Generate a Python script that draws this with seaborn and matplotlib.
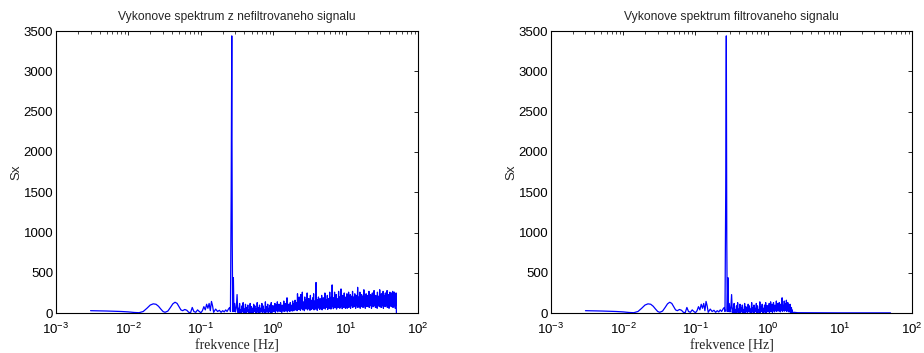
import numpy as np
import matplotlib
matplotlib.use("Agg")
import matplotlib.pyplot as plt
import seaborn as sns
from matplotlib.ticker import LogLocator, NullFormatter

# ---------------- data ----------------
titles = ["Vykonove spektrum z nefiltrovaneho signalu",
          "Vykonove spektrum filtrovaneho signalu"]
xlabel = "frekvence [Hz]"
ylabel = "Sx"
yticks = [0, 500, 1000, 1500, 2000, 2500, 3000, 3500]

# low-frequency part (common to both spectra), incl. the main peak
low_freq = [0.003, 0.005, 0.008, 0.010, 0.012, 0.014, 0.016, 0.018, 0.020, 0.022,
            0.024, 0.026, 0.028, 0.030, 0.032, 0.035, 0.038, 0.041, 0.044, 0.047,
            0.050, 0.053, 0.056, 0.060, 0.064, 0.068, 0.072, 0.076, 0.080, 0.085,
            0.090, 0.095, 0.100, 0.105, 0.110, 0.115, 0.120, 0.125, 0.130, 0.135,
            0.140, 0.145, 0.150, 0.160, 0.170, 0.180, 0.190, 0.200, 0.210, 0.220,
            0.230, 0.240, 0.250, 0.256, 0.262, 0.267, 0.271, 0.275, 0.281, 0.286,
            0.293, 0.300, 0.308, 0.316, 0.323]
low_vals = [30, 26, 20, 15, 8, 5, 20, 60, 100, 115,
            110, 85, 50, 20, 10, 25, 70, 115, 135, 120,
            80, 40, 30, 45, 35, 10, 5, 70, 20, 10,
            40, 20, 5, 30, 80, 40, 110, 60, 120, 30,
            145, 90, 10, 50, 20, 35, 10, 30, 15, 40,
            20, 50, 70, 20, 1500, 3440, 900, 20, 440, 20,
            120, 15, 60, 230, 10]

# noisy band 0.33-1 Hz (both spectra)
peaks_a = [60, 120, 40, 90, 130, 50, 110, 70, 100, 40, 120, 80, 60, 110, 90,
           50, 130, 70, 100, 60, 120, 90, 40, 140, 80, 110, 60, 100, 130, 90]
troughs_a = [5, 10, 0, 15, 5, 10, 0, 20, 5, 10, 0, 15, 5, 20, 10,
             0, 15, 5, 10, 20, 0, 15, 5, 10, 20, 0, 15, 10, 5, 20]

# unfiltered: noisy band 1-10 Hz
peaks_b = [90, 60, 120, 70, 100, 140, 80, 110, 60, 130, 90, 100, 70, 150, 80,
           120, 100, 190, 90, 110, 70, 130, 100, 80, 150, 120, 90,
           160, 100, 130, 240, 110, 200, 150, 230, 120, 260, 140, 110, 200, 130,
           170, 250, 120, 180, 140, 220, 160, 130, 190, 240, 150, 120, 380, 170,
           140, 200, 160, 180, 130, 220, 150,
           190, 150, 250, 170, 140, 220, 180, 160, 260, 150, 200, 350, 170, 190,
           260, 150, 230, 180, 160, 270, 200, 170, 300, 180, 220, 160, 250, 190]
troughs_b = [20, 35, 10, 40, 25, 15, 45, 30, 20, 35, 10, 40, 30, 20, 45,
             25, 35, 15, 40, 30, 20, 45, 35, 25, 40, 30, 45,
             40, 60, 30, 70, 45, 55, 35, 65, 50, 40, 70, 30, 60, 50,
             75, 40, 65, 55, 35, 70, 45, 60, 80, 40, 65, 50, 70, 35,
             60, 75, 45, 55, 80, 40, 70,
             60, 90, 50, 80, 70, 45, 95, 60, 85, 50, 75, 90, 55, 80,
             65, 100, 50, 85, 70, 95, 60, 80, 100, 55, 90, 70, 85, 60]

# unfiltered: noisy band 10-50 Hz
peaks_c = [200, 160, 240, 180, 150, 260, 190, 170, 230, 160,
           210, 180, 270, 160, 200, 150, 240, 190, 170, 220,
           160, 320, 180, 200, 150, 260, 190, 170, 230, 180,
           210, 160, 290, 180, 200, 170, 240, 160, 190, 220,
           170, 270, 180, 160, 230, 200, 170, 250, 180, 160,
           280, 190, 170, 220, 200, 160, 260, 180, 210, 170,
           290, 190, 160, 240, 200, 170, 270, 180, 220, 160,
           250, 190, 170, 280, 200, 160, 230, 180, 260, 170,
           200, 250, 180, 270, 190, 160, 260, 220, 180, 250]
troughs_c = [80, 110, 60, 120, 90, 70, 130, 100, 60, 110,
             90, 120, 70, 100, 130, 80, 110, 60, 120, 90,
             100, 70, 130, 90, 110, 60, 120, 80, 100, 130,
             70, 110, 90, 120, 60, 100, 130, 80, 110, 90,
             120, 70, 100, 130, 90, 60, 110, 120, 80, 100,
             130, 90, 70, 120, 100, 60, 110, 130, 90, 80,
             120, 100, 70, 130, 90, 110, 60, 120, 100, 80,
             130, 90, 110, 70, 120, 100, 60, 130, 90, 110,
             80, 120, 100, 70, 130, 90, 110, 60, 100, 0]

# filtered: noisy band 1-2.2 Hz, then almost zero tail
peaks_f = [90, 60, 120, 70, 140, 80, 110, 60, 130, 90, 100, 70, 150, 80, 120,
           100, 130, 90, 110, 70, 190, 100, 80, 150, 120, 90, 160, 70, 130, 100,
           80, 110, 60, 70, 40]
troughs_f = [15, 30, 10, 40, 20, 35, 10, 45, 25, 15, 40, 30, 20, 45, 35,
             25, 40, 15, 35, 45, 20, 40, 30, 25, 45, 35, 20, 40, 30, 15,
             25, 10, 20, 5, 5]
tail_freq = [2.3, 2.6, 4.0, 10.0, 30.0, 50.0]
tail_vals = [10, 5, 4, 3, 3, 3]


def band(f0, f1, peaks, troughs):
    n = len(peaks)
    f = np.geomspace(f0, f1, 2 * n)
    v = np.column_stack([peaks, troughs]).ravel()
    return list(f), list(v)


fa, va = band(0.33, 0.99, peaks_a, troughs_a)
fb, vb = band(1.0, 9.9, peaks_b, troughs_b)
fc, vc = band(10.0, 50.0, peaks_c, troughs_c)
ff, vf = band(1.0, 2.2, peaks_f, troughs_f)

unf_x = low_freq + fa + fb + fc
unf_y = low_vals + va + vb + vc
fil_x = low_freq + fa + ff + tail_freq
fil_y = low_vals + va + vf + tail_vals

# ---------------- style ----------------
sns.set_theme(style="white")
plt.rcParams["font.family"] = ["Liberation Sans", "DejaVu Sans"]
plt.rcParams["mathtext.fontset"] = "custom"
plt.rcParams["mathtext.rm"] = "Liberation Sans"
plt.rcParams["mathtext.it"] = "Liberation Sans"

fig = plt.figure(figsize=(9.24, 3.53), dpi=100)
fig.patch.set_facecolor("white")
axes = [fig.add_axes([0.0606, 0.113, 0.392, 0.799]),
        fig.add_axes([0.5963, 0.113, 0.391, 0.799])]

for ax, title, xs, ys in zip(axes, titles, [unf_x, fil_x], [unf_y, fil_y]):
    sns.lineplot(x=xs, y=ys, ax=ax, color="#0000ff", linewidth=0.9,
                 estimator=None, sort=False)
    ax.set_xscale("log")
    ax.set_xlim(1e-3, 1e2)
    ax.set_ylim(0, 3500)
    ax.set_yticks(yticks)
    ax.set_yticklabels([str(t) for t in yticks])
    ax.xaxis.set_major_locator(LogLocator(base=10, numticks=10))
    ax.xaxis.set_minor_locator(LogLocator(base=10, subs=np.arange(2, 10), numticks=20))
    ax.xaxis.set_minor_formatter(NullFormatter())
    ax.tick_params(axis="both", which="both", direction="in", top=True, right=True,
                   colors="black", labelsize=9.5)
    ax.tick_params(axis="both", which="major", length=3, width=0.6)
    ax.tick_params(axis="x", which="minor", length=1.8, width=0.5)
    ax.tick_params(axis="x", which="major", pad=6)
    ax.tick_params(axis="y", which="major", pad=2)
    for s in ax.spines.values():
        s.set_visible(True)
        s.set_color("black")
        s.set_linewidth(0.8)
    ax.set_title(title, fontsize=8.7, pad=8)
    ax.set_xlabel(xlabel, family=["Liberation Serif", "DejaVu Serif"], fontsize=10,
                  labelpad=2)
    ax.set_ylabel(ylabel, fontsize=9.5, labelpad=1)
    ax.grid(False)
    ax.set_facecolor("white")

fig.savefig("out.png", dpi=100, facecolor="white")
